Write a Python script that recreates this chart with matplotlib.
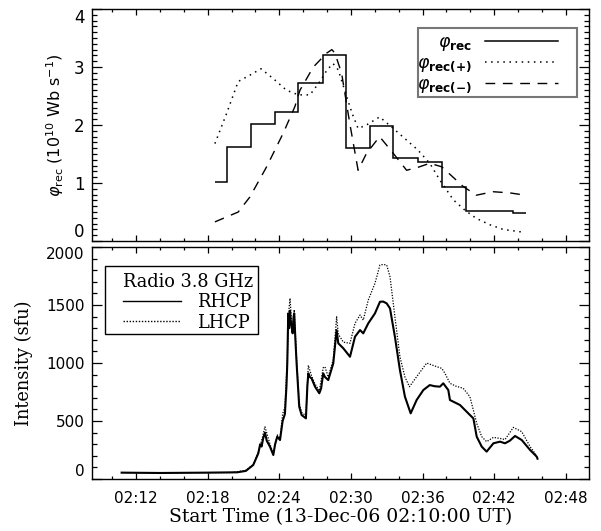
import matplotlib
matplotlib.use('Agg')
import matplotlib.pyplot as plt
from matplotlib.ticker import MultipleLocator, FuncFormatter
from matplotlib.lines import Line2D
from matplotlib.patches import Rectangle

# ---------------- data (time in minutes after 02:00 UT) ----------------
# reconnection flux, step curve (histogram style)
rec_edges = [18.61, 19.62, 21.63, 23.64, 25.56, 27.66, 29.58, 31.59, 33.52,
             35.61, 37.62, 39.63, 43.56, 44.65]
rec_vals = [1.01, 1.615, 2.02, 2.23, 2.72, 3.20, 1.61, 1.99, 1.44, 1.36,
            0.93, 0.52, 0.48]

plus_t = [18.61, 19.59, 20.56, 21.54, 22.47, 23.5, 24.6, 25.6, 26.57, 27.4,
          28.0, 28.5, 28.94, 29.64, 30.1, 30.6, 31.3, 32.4, 33.55, 34.66,
          35.6, 36.6, 37.45, 38.57, 39.55, 40.5, 41.64, 42.75, 44.15, 44.5]
plus_v = [1.68, 2.2, 2.75, 2.86, 2.97, 2.8, 2.6, 2.52, 2.52, 2.75,
          2.95, 3.06, 2.95, 2.49, 2.2, 1.94, 2.0, 2.14, 1.94, 1.74,
          1.57, 1.34, 1.05, 0.71, 0.53, 0.39, 0.28, 0.2, 0.16, 0.15]

minus_t = [18.61, 20.56, 21.54, 22.94, 24.33, 25.31, 25.73, 26.85, 27.97,
           28.4, 28.66, 29.22, 29.9, 30.6, 31.3, 32.4, 33.55, 34.66, 35.6,
           36.6, 37.6, 39.4, 40.5, 41.9, 43.3, 44.6]
minus_v = [0.33, 0.5, 0.76, 1.28, 1.86, 2.32, 2.6, 3.0, 3.24,
           3.3, 3.24, 2.89, 2.03, 1.22, 1.51, 1.8, 1.51, 1.22, 1.27,
           1.34, 1.28, 0.94, 0.79, 0.85, 0.83, 0.79]

# radio 3.8 GHz
rhcp_t = [10.8, 14.0, 18.0, 20.5, 21.2, 21.82, 22.24, 22.4, 22.52, 22.65,
          22.8, 22.95, 23.22, 23.5, 23.65, 23.83, 24.06, 24.28, 24.47, 24.6,
          24.67, 24.75, 24.82, 24.9, 24.95, 25.05, 25.12, 25.2, 25.25, 25.35,
          25.45, 25.67, 25.87, 26.23, 26.35, 26.43, 26.55, 26.7, 26.99, 27.35,
          27.5, 27.68, 27.82, 28.1, 28.52, 28.8, 28.94, 29.36, 29.92, 30.34,
          30.76, 31.03, 31.45, 32.01, 32.43, 32.7, 32.99, 33.27, 33.68, 34.1,
          34.52, 35.0, 35.5, 36.06, 36.6, 37.0, 37.45, 37.73, 38.15, 38.29,
          39.13, 39.96, 40.25, 40.53, 40.95, 41.36, 41.93, 42.48, 42.9, 43.3,
          43.74, 44.3, 45.0, 45.56, 45.62]
rhcp_v = [55, 52, 55, 58, 70, 121, 221, 300, 280, 350,
          400, 330, 279, 207, 300, 365, 336, 500, 560, 800,
          997, 1428, 1300, 1450, 1371, 1300, 1256, 1400, 1428, 1200,
          997, 623, 552, 523, 800, 911, 880, 868, 796, 739,
          780, 911, 880, 853, 997, 1284, 1170, 1127, 1054, 1227,
          1284, 1256, 1342, 1428, 1528, 1530, 1514, 1471, 1227, 940,
          710, 566, 681, 767, 810, 800, 796, 825, 767, 681,
          638, 552, 523, 365, 279, 236, 308, 322, 308, 330,
          371, 336, 250, 192, 175]

lhcp_t = [10.8, 20.0, 21.2, 21.82, 22.24, 22.52, 22.8, 23.22, 23.5, 23.83,
          24.06, 24.28, 24.47, 24.67, 24.8, 24.9, 25.0, 25.12, 25.25, 25.45,
          25.67, 25.87, 26.23, 26.43, 26.7, 26.99, 27.35, 27.68, 27.82, 28.1,
          28.52, 28.8, 28.94, 29.36, 29.92, 30.34, 30.76, 31.03, 31.45, 32.01,
          32.43, 32.7, 32.99, 33.27, 33.68, 34.1, 34.52, 34.9, 35.5, 36.06,
          36.34, 37.0, 37.6, 37.87, 38.29, 38.8, 39.4, 39.96, 40.53, 40.95,
          41.36, 41.93, 42.48, 42.9, 43.6, 44.3, 45.0, 45.56]
lhcp_v = [55, 55, 75, 125, 230, 330, 450, 300, 220, 380,
          350, 560, 620, 1030, 1450, 1558, 1400, 1300, 1460, 1030,
          650, 575, 545, 980, 890, 820, 760, 960, 968, 880,
          1030, 1399, 1250, 1180, 1170, 1342, 1414, 1370, 1543, 1687,
          1845, 1850, 1845, 1744, 1399, 1054, 880, 796, 882, 960,
          1000, 975, 954, 911, 825, 800, 782, 710, 480, 365,
          322, 359, 350, 340, 445, 408, 279, 200]

x_range = (8.32, 49.93)
top_yticks = [0, 1, 2, 3, 4]
bot_yticks = [0, 500, 1000, 1500, 2000]

# ---------------- figure ----------------
fig = plt.figure(figsize=(6.01, 5.31), dpi=100)
ax1 = fig.add_axes([0.1531, 0.5461, 0.8269, 0.4369])
ax2 = fig.add_axes([0.1531, 0.0979, 0.8269, 0.4369])


def fmt_time(m, pos=None):
    m = int(round(m))
    return f"{2 + m // 60:02d}:{m % 60:02d}"


for ax in (ax1, ax2):
    ax.xaxis.set_major_locator(MultipleLocator(6))
    ax.xaxis.set_minor_locator(MultipleLocator(2))
    ax.tick_params(which='both', direction='in', top=True, right=True,
                   width=0.9, color='black')
    ax.tick_params(axis='x', which='major', length=4, pad=8.5)
    ax.tick_params(axis='x', which='minor', length=2.5)
    ax.tick_params(axis='y', which='major', length=7, pad=5.5)
    ax.tick_params(axis='y', which='minor', length=3.5)
    for s in ax.spines.values():
        s.set_linewidth(1.0)

# ---- top panel ----
ax1.stairs(rec_vals, rec_edges, baseline=None, color='black', lw=1.1)
ax1.plot(plus_t, plus_v, color='black', lw=1.1, linestyle=(0, (1, 3)))
ax1.plot(minus_t, minus_v, color='black', lw=1.0, linestyle=(0, (7, 5.5)))
ax1.set_yticks(top_yticks)
ax1.set_yticklabels([str(v) for v in top_yticks], fontfamily='DejaVu Sans',
                    fontsize=12)
ax1.yaxis.set_minor_locator(MultipleLocator(0.1))
ax1.set_ylim(top_yticks[0], top_yticks[-1])
ax1.set_xlim(*x_range)
ax1.tick_params(axis='x', labelbottom=False)
ylabs = ax1.get_yticklabels()
ylabs[0].set_va('bottom')
ylabs[-1].set_va('top')
ax1.set_ylabel(r'$\varphi_{\rm rec}$ (10$^{10}$ Wb s$^{-1}$)',
               fontfamily='DejaVu Sans', fontsize=11.5)
ax1.yaxis.set_label_coords(-0.052, 0.5)

ax1.add_patch(Rectangle((0.656, 0.621), 0.320, 0.297, transform=ax1.transAxes,
                        facecolor='white', edgecolor='#777777', lw=1.5,
                        zorder=4))
h1 = [Line2D([], [], color='black', lw=1.1),
      Line2D([], [], color='black', lw=1.1, linestyle=(0, (1, 3))),
      Line2D([], [], color='black', lw=1.0, linestyle=(0, (7, 5.5)))]
leg1 = ax1.legend(h1, [r'$\varphi_{\mathbf{rec}}$',
                       r'$\varphi_{\mathbf{rec(+)}}$',
                       r'$\varphi_{\mathbf{rec(-)}}$'],
                  loc='upper right', bbox_to_anchor=(0.938, 0.895),
                  borderaxespad=0, borderpad=0, markerfirst=False,
                  frameon=False, fontsize=12.5, handlelength=4.2,
                  labelspacing=0.05, handletextpad=0.75)
leg1.set_zorder(6)

# ---- bottom panel ----
ax2.plot(rhcp_t, rhcp_v, color='black', lw=1.5)
ax2.plot(lhcp_t, lhcp_v, color='black', lw=0.9, linestyle=(0, (1, 1.2)))
ax2.set_yticks(bot_yticks)
ax2.set_yticklabels([str(v) for v in bot_yticks], fontfamily='DejaVu Sans',
                    fontsize=11)
ax2.yaxis.set_minor_locator(MultipleLocator(100))
ax2.set_ylim(bot_yticks[0], bot_yticks[-1])
ax2.set_xlim(*x_range)
blabs = ax2.get_yticklabels()
blabs[0].set_va('bottom')
blabs[-1].set_va('top')
ax2.xaxis.set_major_formatter(FuncFormatter(fmt_time))
ax2.tick_params(axis='x', labelsize=11)
for lab in ax2.get_xticklabels():
    lab.set_fontfamily('DejaVu Sans')
ax2.set_ylabel('Intensity (sfu)', fontfamily='DejaVu Serif', fontsize=12.8)
ax2.yaxis.set_label_coords(-0.119, 0.5)
ax2.set_xlabel('Start Time (13-Dec-06 02:10:00 UT)',
               fontfamily='DejaVu Serif', fontsize=13.5)
ax2.xaxis.set_label_coords(0.5, -0.125)

ax2.add_patch(Rectangle((0.026, 0.625), 0.308, 0.293, transform=ax2.transAxes,
                        facecolor='white', edgecolor='black', lw=1.0,
                        zorder=4))
h2 = [Line2D([], [], color='black', lw=1.0),
      Line2D([], [], color='black', lw=1.0, linestyle=(0, (1, 1.2)))]
leg2 = ax2.legend(h2, ['RHCP', 'LHCP'], title='Radio 3.8 GHz',
                  loc='upper left', bbox_to_anchor=(0.062, 0.887),
                  borderaxespad=0, borderpad=0, frameon=False,
                  prop={'family': 'DejaVu Serif', 'size': 12.8},
                  title_fontproperties={'family': 'DejaVu Serif', 'size': 12.8},
                  handlelength=3.3, labelspacing=0.12, handletextpad=0.85)
leg2._legend_box.align = 'left'
leg2.set_zorder(6)

fig.savefig('out.png', dpi=100)
